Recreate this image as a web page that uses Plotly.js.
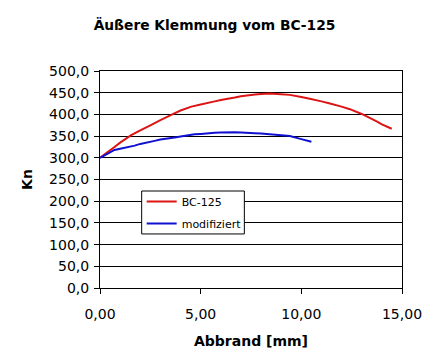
<!DOCTYPE html>
<html>
<head>
<meta charset="utf-8">
<script src="https://cdn.plot.ly/plotly-3.0.1.min.js"></script>
<style>html,body{margin:0;padding:0;background:#fff;}#chart{width:429px;height:355px;}</style>
</head>
<body>
<div id="chart"></div>
<script>
var abbrandBC = [0, 0.72, 1, 1.55, 2, 2.55, 3, 3.54, 4, 4.54, 5, 5.7, 6, 6.7, 7, 7.7, 8, 8.43, 9, 9.43, 10, 10.42, 11, 11.42, 12, 12.41, 13, 13.74, 14, 14.49];
var knBC = [300, 325, 335, 352, 363, 376, 387, 399, 409, 418, 423, 430, 433, 439, 442, 446, 447, 448, 446.5, 445, 440, 436, 430, 425, 418, 412, 401, 384, 377, 367];
var abbrandMod = [0, 0.72, 1, 1.72, 2, 2.71, 3, 3.71, 4, 4.7, 5, 5.7, 6, 6.69, 7, 7.69, 8, 9, 9.43, 10, 10.5];
var knMod = [300, 318, 321, 328, 332, 339, 342, 347, 349, 354, 355, 358, 358.5, 359, 358.5, 356.7, 356, 352, 350, 343, 337];
var seriesNames = ['BC-125', 'modifiziert'];

var traces = [
  {x: abbrandBC, y: knBC, name: seriesNames[0], type: 'scatter', mode: 'lines',
   legendgroup: 'a', line: {color: '#dd1414', width: 2, simplify: false}},
  {x: abbrandMod, y: knMod, name: seriesNames[1], type: 'scatter', mode: 'lines',
   legendgroup: 'b', line: {color: '#1010d0', width: 2, simplify: false}}
];

var layout = {
  width: 429, height: 355,
  paper_bgcolor: '#fff', plot_bgcolor: '#fff',
  separators: ', ',
  margin: {l: 100, r: 27, t: 71, b: 67},
  font: {family: 'DejaVu Sans', color: '#000', size: 14},
  title: {text: 'Äußere Klemmung vom BC-125', font: {family: 'DejaVu Sans', size: 13.8, weight: 'bold', color: '#000'},
          x: 0.5, xref: 'container', y: 1 - 25/355, yref: 'container', yanchor: 'middle', xanchor: 'center'},
  xaxis: {
    range: [0, 15], dtick: 5, tick0: 0, tickformat: '.2f',
    showgrid: false, zeroline: false,
    showline: true, mirror: true, linecolor: '#000', linewidth: 1,
    ticks: 'outside', ticklen: 5, tickcolor: '#000', tickwidth: 1,
    ticklabelstandoff: 8,
    tickfont: {size: 14, color: '#000'},
    title: {text: 'Abbrand [mm]', font: {size: 14, weight: 'bold', color: '#000'}, standoff: 15}
  },
  yaxis: {
    range: [0, 500], dtick: 50, tick0: 0, tickformat: '.1f',
    showgrid: true, gridcolor: '#000', gridwidth: 1, zeroline: false,
    showline: true, mirror: true, linecolor: '#000', linewidth: 1,
    ticks: 'outside', ticklen: 5, tickcolor: '#000', tickwidth: 1,
    ticklabelstandoff: 2,
    tickfont: {size: 14, color: '#000'},
    title: {text: 'Kn', font: {size: 14, weight: 'bold', color: '#000'}, standoff: 13}
  },
  shapes: [
    {type: 'rect', xref: 'paper', yref: 'paper', x0: 0.138, x1: 0.478, y0: 0.249, y1: 0.447,
     fillcolor: '#fff', line: {color: '#000', width: 1}, layer: 'above'}
  ],
  showlegend: true,
  legend: {x: 0.138, y: 0.465, xanchor: 'left', yanchor: 'top',
           bgcolor: 'rgba(0,0,0,0)', borderwidth: 0,
           traceorder: 'grouped', tracegroupgap: 3,
           font: {size: 11, color: '#000'}}
};

Plotly.newPlot('chart', traces, layout, {displayModeBar: false, staticPlot: true});
</script>
</body>
</html>
